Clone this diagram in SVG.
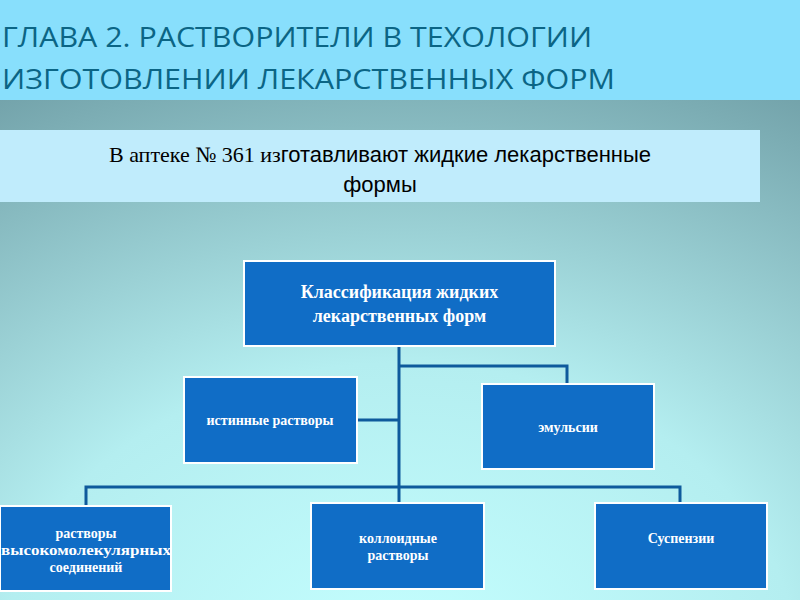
<svg xmlns="http://www.w3.org/2000/svg" width="800" height="600" viewBox="0 0 800 600">
<defs>
<radialGradient id="bg" cx="0.5" cy="1.1" r="1.1">
<stop offset="0" stop-color="#c4ffff"/>
<stop offset="0.45" stop-color="#b4eef0"/>
<stop offset="1" stop-color="#6f9ea6"/>
</radialGradient>
<style>
.n{fill:#106dc6;stroke:#fff;stroke-width:2}
.t{font-family:"Liberation Serif",serif;font-weight:bold;fill:#fff;text-anchor:middle;font-size:14px}
.r{font-size:18px}
.c{fill:none;stroke:#0e5a9c;stroke-width:3}
</style>
</defs>
<rect width="800" height="600" fill="url(#bg)"/>
<rect width="800" height="100" fill="#88dffc"/>
<text font-family="Open Sans,Liberation Sans,sans-serif" font-size="27" fill="#0b6585" textLength="590" lengthAdjust="spacingAndGlyphs" x="2" y="47">ГЛАВА 2. РАСТВОРИТЕЛИ В ТЕХОЛОГИИ</text>
<text font-family="Open Sans,Liberation Sans,sans-serif" font-size="27" fill="#0b6585" textLength="613" lengthAdjust="spacingAndGlyphs" x="2" y="89">ИЗГОТОВЛЕНИИ ЛЕКАРСТВЕННЫХ ФОРМ</text>
<rect x="0" y="130" width="760" height="72" fill="#c0ecfc"/>
<text x="380" y="162" font-family="Liberation Sans,sans-serif" font-size="22" fill="#000" text-anchor="middle"><tspan font-family="Liberation Serif,serif">В аптеке № 361 из</tspan>готавливают жидкие лекарственные</text>
<text x="380" y="192" font-family="Liberation Sans,sans-serif" font-size="22" fill="#000" text-anchor="middle">формы</text>
<g id="connectors">
<path class="c" d="M399 346V438M399 366H567V384M357 420H399M399 438V503M86 506V487H680V503"/>
</g>
<g id="root"><rect class="n" x="244" y="261" width="311" height="85"/>
<text class="t r" x="399.5" y="298">Классификация  жидких</text>
<text class="t r" x="399.5" y="322">лекарственных форм</text></g>
<g id="true"><rect class="n" x="184" y="377" width="173" height="86"/><text class="t" x="270" y="425">истинные растворы</text></g>
<g id="emul"><rect class="n" x="482" y="384" width="172" height="85"/><text class="t" x="568" y="432">эмульсии</text></g>
<g id="hmw"><rect class="n" x="0" y="506" width="171" height="85"/><text class="t" x="86" y="538">растворы</text><text class="t" x="86" y="555" textLength="170" lengthAdjust="spacingAndGlyphs">высокомолекулярных</text><text class="t" x="86" y="572">соединений</text></g>
<g id="coll"><rect class="n" x="311" y="503" width="173" height="86"/><text class="t" x="398" y="543">коллоидные</text><text class="t" x="398" y="560">растворы</text></g>
<g id="susp"><rect class="n" x="595" y="503" width="172" height="86"/><text class="t" x="681" y="543">Суспензии</text></g>
</svg>
